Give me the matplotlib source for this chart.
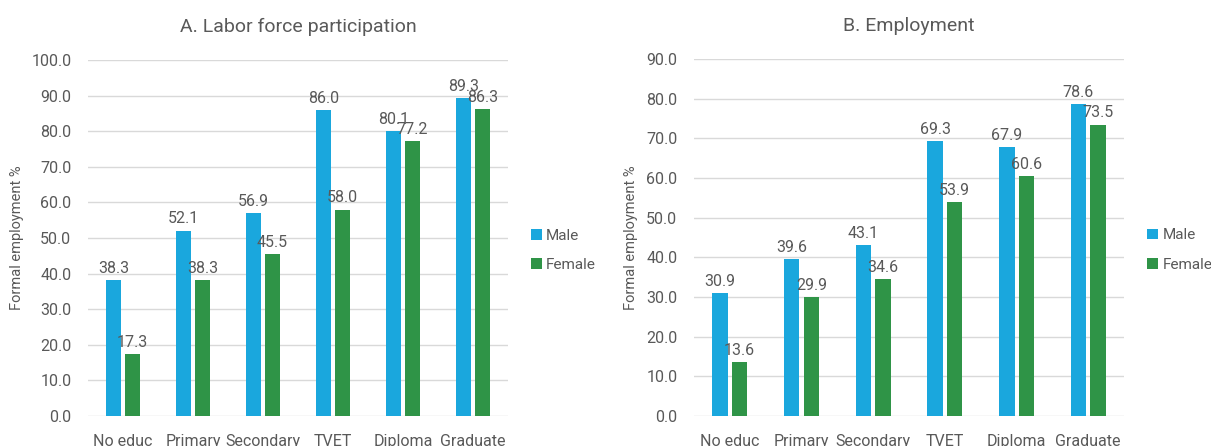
import numpy as np
import matplotlib.pyplot as plt

# data
categories = ["No educ", "Primary", "Secondary", "TVET", "Diploma", "Graduate"]
lfp_male = [38.3, 52.1, 56.9, 86.0, 80.1, 89.3]
lfp_female = [17.3, 38.3, 45.5, 58.0, 77.2, 86.3]
emp_male = [30.9, 39.6, 43.1, 69.3, 67.9, 78.6]
emp_female = [13.6, 29.9, 34.6, 53.9, 60.6, 73.5]

plt.rcParams['font.family'] = ['Roboto', 'DejaVu Sans']
blue = '#1AA7DD'
green = '#2F9447'
txt = '#595959'
grid = '#D9D9D9'

fig = plt.figure(figsize=(12.11, 4.46), dpi=100)
ax1 = fig.add_axes([0.0727, 0.0673, 0.3468, 0.798])
ax2 = fig.add_axes([0.5731, 0.0673, 0.3551, 0.800])


def panel(ax, male, female, title, ymax, ylab_x):
    x = np.arange(len(categories))
    w = 0.215
    off = 0.136
    b1 = ax.bar(x - off, male, w, color=blue, label='Male')
    b2 = ax.bar(x + off, female, w, color=green, label='Female')
    for bars in (b1, b2):
        ax.bar_label(bars, labels=[f"{v:.1f}" for v in bars.datavalues],
                     padding=3, fontsize=11.5, color=txt)
    ax.set_xlim(-0.5, len(categories) - 0.5)
    ax.set_ylim(0, ymax)
    ax.set_yticks(np.arange(0, ymax + 1, 10))
    ax.set_yticklabels([f"{v:.1f}" for v in np.arange(0, ymax + 1, 10)])
    ax.set_xticks(x)
    ax.set_xticklabels(categories)
    ax.tick_params(axis='both', length=0, labelsize=11.5, colors=txt)
    ax.tick_params(axis='x', pad=13)
    ax.tick_params(axis='y', pad=12)
    ax.yaxis.grid(True, color=grid, linewidth=1)
    ax.set_axisbelow(True)
    for s in ax.spines.values():
        s.set_visible(False)
    ax.set_ylabel("Formal employment %", fontsize=10.5, color=txt)
    ax.yaxis.set_label_coords(ylab_x, 0.5)
    ax.set_title(title, fontsize=14, color=txt, pad=20)
    ax.legend(loc='center left', bbox_to_anchor=(1.04, 0.465), frameon=False,
              fontsize=11, labelcolor=txt, handlelength=0.7, handleheight=0.7,
              handletextpad=0.3, labelspacing=1.0, borderaxespad=0)


panel(ax1, lfp_male, lfp_female, "A. Labor force participation", 100, -0.152)
panel(ax2, emp_male, emp_female, "B. Employment", 90, -0.130)

fig.savefig("out.png", dpi=100)
